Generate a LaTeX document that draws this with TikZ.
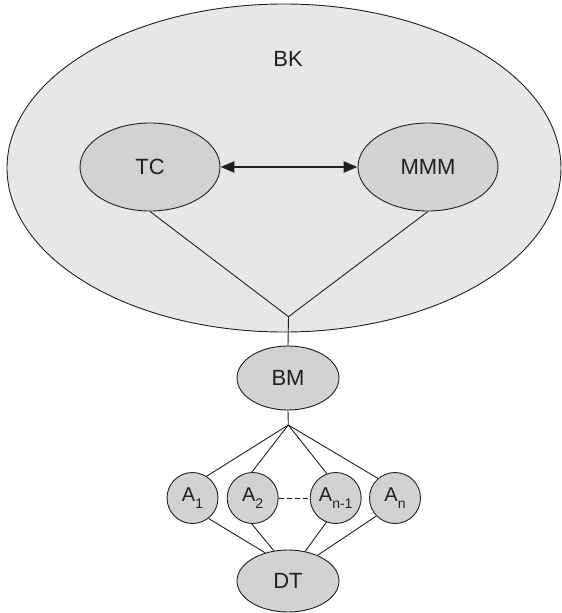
\documentclass[tikz,border=0pt]{standalone}
\usepackage{fontspec}
\setmainfont{Liberation Sans}
\usetikzlibrary{shapes.geometric,arrows.meta}
\definecolor{ink}{HTML}{231F20}
\definecolor{outerfill}{HTML}{E6E7E8}
\definecolor{innerfill}{HTML}{D1D2D4}
\newcommand{\idx}[1]{\raisebox{-0.32em}{\fontsize{14pt}{14pt}\selectfont #1}}
\tikzset{
  outerell/.style={ellipse, draw=ink, line width=0.9pt, fill=outerfill, inner sep=0pt},
  unit/.style={ellipse, draw=ink, line width=0.9pt, fill=innerfill, inner sep=0pt,
    text=ink, font=\fontsize{22pt}{22pt}\selectfont},
  agent/.style={circle, draw=ink, line width=0.9pt, fill=innerfill, inner sep=0pt,
    minimum size=51pt, text=ink, font=\fontsize{20pt}{20pt}\selectfont},
  link/.style={draw=ink, line width=0.9pt},
  twoway/.style={draw=ink, line width=2.4pt,
    {Triangle[length=14pt,width=11pt]}-{Triangle[length=14pt,width=11pt]}}
}
\begin{document}
\begin{tikzpicture}[x=1pt,y=-1pt]
  \useasboundingbox (0,0) rectangle (562,613);
  % outer region
  \node[outerell, minimum width=554pt, minimum height=328pt] (BK) at (284,168) {};
  \node[text=ink, font=\fontsize{22pt}{22pt}\selectfont] (BKlabel) at (288,59) {BK};
  % units inside the region
  \node[unit, minimum width=140pt, minimum height=88pt] (TC) at (150,167) {TC};
  \node[unit, minimum width=140pt, minimum height=88pt] (MMM) at (428,167) {MMM};
  \draw[twoway] (TC.east) -- (MMM.west);
  % junctions
  \coordinate (J1) at (288.5,316.7);
  \coordinate (J2) at (288.3,425);
  \draw[link] (TC.south) -- (J1) -- (MMM.south);
  % lower nodes
  \node[unit, minimum width=102pt, minimum height=64pt] (BM) at (288,378) {BM};
  \draw[link] (J1) -- (BM.north);
  \draw[link] (BM.south) -- (J2);
  \node[agent] (A1) at (192.5,498) {A\idx{1}};
  \node[agent] (A2) at (252.7,498) {A\idx{2}};
  \node[agent] (An1) at (335.7,498) {A\idx{n-1}};
  \node[agent] (An) at (395,498) {A\idx{n}};
  \draw[link, dash pattern=on 5pt off 3pt] (A2.east) -- (An1.west);
  \node[unit, minimum width=102pt, minimum height=62pt] (DT) at (288,581) {DT};
  % links from the junction to the agents
  \draw[link] (J2) -- (A1.57);
  \draw[link] (J2) -- (A2.92);
  \draw[link] (J2) -- (An1.110);
  \draw[link] (J2) -- (An.131);
  % links from the agents to DT
  \draw[link] (A1.-52) -- (DT.129);
  \draw[link] (A2.-92) -- (DT.115);
  \draw[link] (An1.-111) -- (DT.60);
  \draw[link] (An.-136) -- (DT.41);
\end{tikzpicture}
\end{document}
